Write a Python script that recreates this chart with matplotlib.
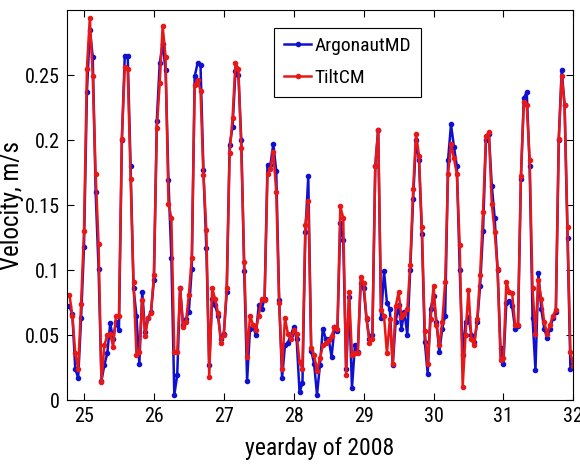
import numpy as np
import matplotlib.pyplot as plt
from matplotlib import font_manager

# MATLAB export uses a narrow Helvetica; look for a condensed sans
fonts = font_manager.fontManager.ttflist
names = set(f.name for f in fonts)
narrow = None
for cand in ['Liberation Sans Narrow', 'Roboto Condensed', 'Noto Sans Condensed',
             'Open Sans Condensed', 'DejaVu Sans Condensed']:
    if cand in names:
        narrow = cand
        break
if narrow is None:
    for f in fonts:
        if f.stretch in ('condensed', 'semi-condensed') and f.style == 'normal' \
                and f.weight in (400, 'normal', 'regular') and 'Sans' in f.name:
            narrow = f.name
            plt.rcParams['font.stretch'] = f.stretch
            break
if narrow is not None:
    plt.rcParams['font.family'] = [narrow, 'DejaVu Sans']
    fs_tick, fs_lab, fs_leg = 14.5, 17, 14
else:
    plt.rcParams['font.family'] = ['Liberation Sans', 'DejaVu Sans']
    fs_tick, fs_lab, fs_leg = 12, 13, 12

# hourly samples, yearday of 2008
t_start = 24.75 + 1 / 24
t_end = 32.0

tilt = [0.081, 0.065, 0.036, 0.024, 0.074, 0.130, 0.255, 0.294, 0.249, 0.174,
        0.120, 0.014, 0.042, 0.050, 0.051, 0.041, 0.065, 0.065, 0.201, 0.256,
        0.255, 0.170, 0.091, 0.035, 0.037, 0.077, 0.049, 0.063, 0.067, 0.096,
        0.209, 0.244, 0.288, 0.264, 0.151, 0.140, 0.037, 0.037, 0.086, 0.056,
        0.060, 0.081, 0.109, 0.242, 0.246, 0.238, 0.173, 0.131, 0.018, 0.086,
        0.078, 0.067, 0.044, 0.050, 0.086, 0.190, 0.217, 0.259, 0.255, 0.194,
        0.106, 0.033, 0.065, 0.058, 0.054, 0.065, 0.078, 0.077, 0.174, 0.178,
        0.191, 0.160, 0.075, 0.024, 0.063, 0.051, 0.047, 0.054, 0.051, 0.029,
        0.024, 0.135, 0.153, 0.040, 0.035, 0.022, 0.032, 0.042, 0.044, 0.046,
        0.049, 0.056, 0.055, 0.149, 0.140, 0.019, 0.083, 0.035, 0.036, 0.036,
        0.095, 0.090, 0.063, 0.044, 0.047, 0.180, 0.208, 0.069, 0.065, 0.036,
        0.062, 0.028, 0.072, 0.083, 0.064, 0.066, 0.070, 0.104, 0.162, 0.205,
        0.188, 0.133, 0.053, 0.028, 0.062, 0.088, 0.058, 0.042, 0.060, 0.091,
        0.174, 0.197, 0.186, 0.174, 0.119, 0.010, 0.050, 0.085, 0.047, 0.042,
        0.062, 0.096, 0.145, 0.203, 0.206, 0.151, 0.129, 0.101, 0.031, 0.032,
        0.091, 0.083, 0.082, 0.058, 0.058, 0.172, 0.229, 0.227, 0.185, 0.086,
        0.051, 0.092, 0.078, 0.060, 0.051, 0.058, 0.065, 0.069, 0.201, 0.249,
        0.227, 0.133, 0.037, 0.026]

argonaut = [0.072, 0.066, 0.024, 0.017, 0.063, 0.118, 0.237, 0.285, 0.264, 0.160,
            0.101, 0.015, 0.027, 0.036, 0.059, 0.047, 0.060, 0.054, 0.200, 0.265,
            0.265, 0.180, 0.086, 0.065, 0.028, 0.083, 0.052, 0.063, 0.068, 0.092,
            0.215, 0.259, 0.274, 0.254, 0.169, 0.109, 0.004, 0.019, 0.086, 0.058,
            0.062, 0.068, 0.101, 0.249, 0.259, 0.258, 0.177, 0.117, 0.027, 0.078,
            0.073, 0.065, 0.047, 0.051, 0.083, 0.196, 0.210, 0.253, 0.250, 0.200,
            0.099, 0.015, 0.055, 0.057, 0.050, 0.073, 0.070, 0.078, 0.181, 0.181,
            0.197, 0.176, 0.077, 0.017, 0.042, 0.044, 0.050, 0.056, 0.047, 0.006,
            0.013, 0.129, 0.172, 0.038, 0.028, 0.004, 0.027, 0.055, 0.047, 0.047,
            0.033, 0.056, 0.053, 0.136, 0.123, 0.024, 0.079, 0.009, 0.042, 0.037,
            0.090, 0.086, 0.062, 0.047, 0.050, 0.180, 0.208, 0.063, 0.099, 0.075,
            0.070, 0.027, 0.060, 0.073, 0.055, 0.068, 0.050, 0.100, 0.155, 0.200,
            0.185, 0.128, 0.045, 0.020, 0.070, 0.080, 0.060, 0.037, 0.055, 0.065,
            0.185, 0.212, 0.195, 0.180, 0.100, 0.035, 0.060, 0.064, 0.050, 0.045,
            0.060, 0.088, 0.130, 0.200, 0.205, 0.165, 0.140, 0.100, 0.040, 0.028,
            0.075, 0.076, 0.072, 0.055, 0.057, 0.170, 0.232, 0.237, 0.180, 0.063,
            0.023, 0.098, 0.070, 0.055, 0.048, 0.055, 0.063, 0.068, 0.200, 0.254,
            0.227, 0.125, 0.024, 0.028]

t = np.linspace(t_start, t_end, len(tilt))

fig = plt.figure(figsize=(5.8, 4.66), dpi=100)
ax = fig.add_axes([0.1147, 0.1416, 0.8738, 0.8369])

ax.plot(t, argonaut, color='#1010d0', lw=1.8, marker='.', ms=6, label='ArgonautMD')
ax.plot(t, tilt, color='#e81818', lw=1.8, marker='.', ms=6, label='TiltCM')

ax.set_xlim(24.75, 32)
ax.set_ylim(0, 0.3)
ax.set_xticks(range(25, 33))
ax.set_yticks([0, 0.05, 0.1, 0.15, 0.2, 0.25])
ax.set_yticklabels(['0', '0.05', '0.1', '0.15', '0.2', '0.25'])
ax.tick_params(direction='in', top=True, right=True, length=5,
               labelsize=fs_tick, pad=5)
ax.set_xlabel('yearday of 2008', fontsize=fs_lab, labelpad=8)
ax.set_ylabel('Velocity, m/s', fontsize=fs_lab + 1, labelpad=0)

leg = ax.legend(loc='upper left', bbox_to_anchor=(0.41, 0.955), fontsize=fs_leg,
                fancybox=False, edgecolor='black', framealpha=1,
                handlelength=1.4, handletextpad=0.15, borderpad=0.5,
                labelspacing=0.7, borderaxespad=0)
leg.get_frame().set_linewidth(0.8)

fig.savefig('out.png', dpi=100)
